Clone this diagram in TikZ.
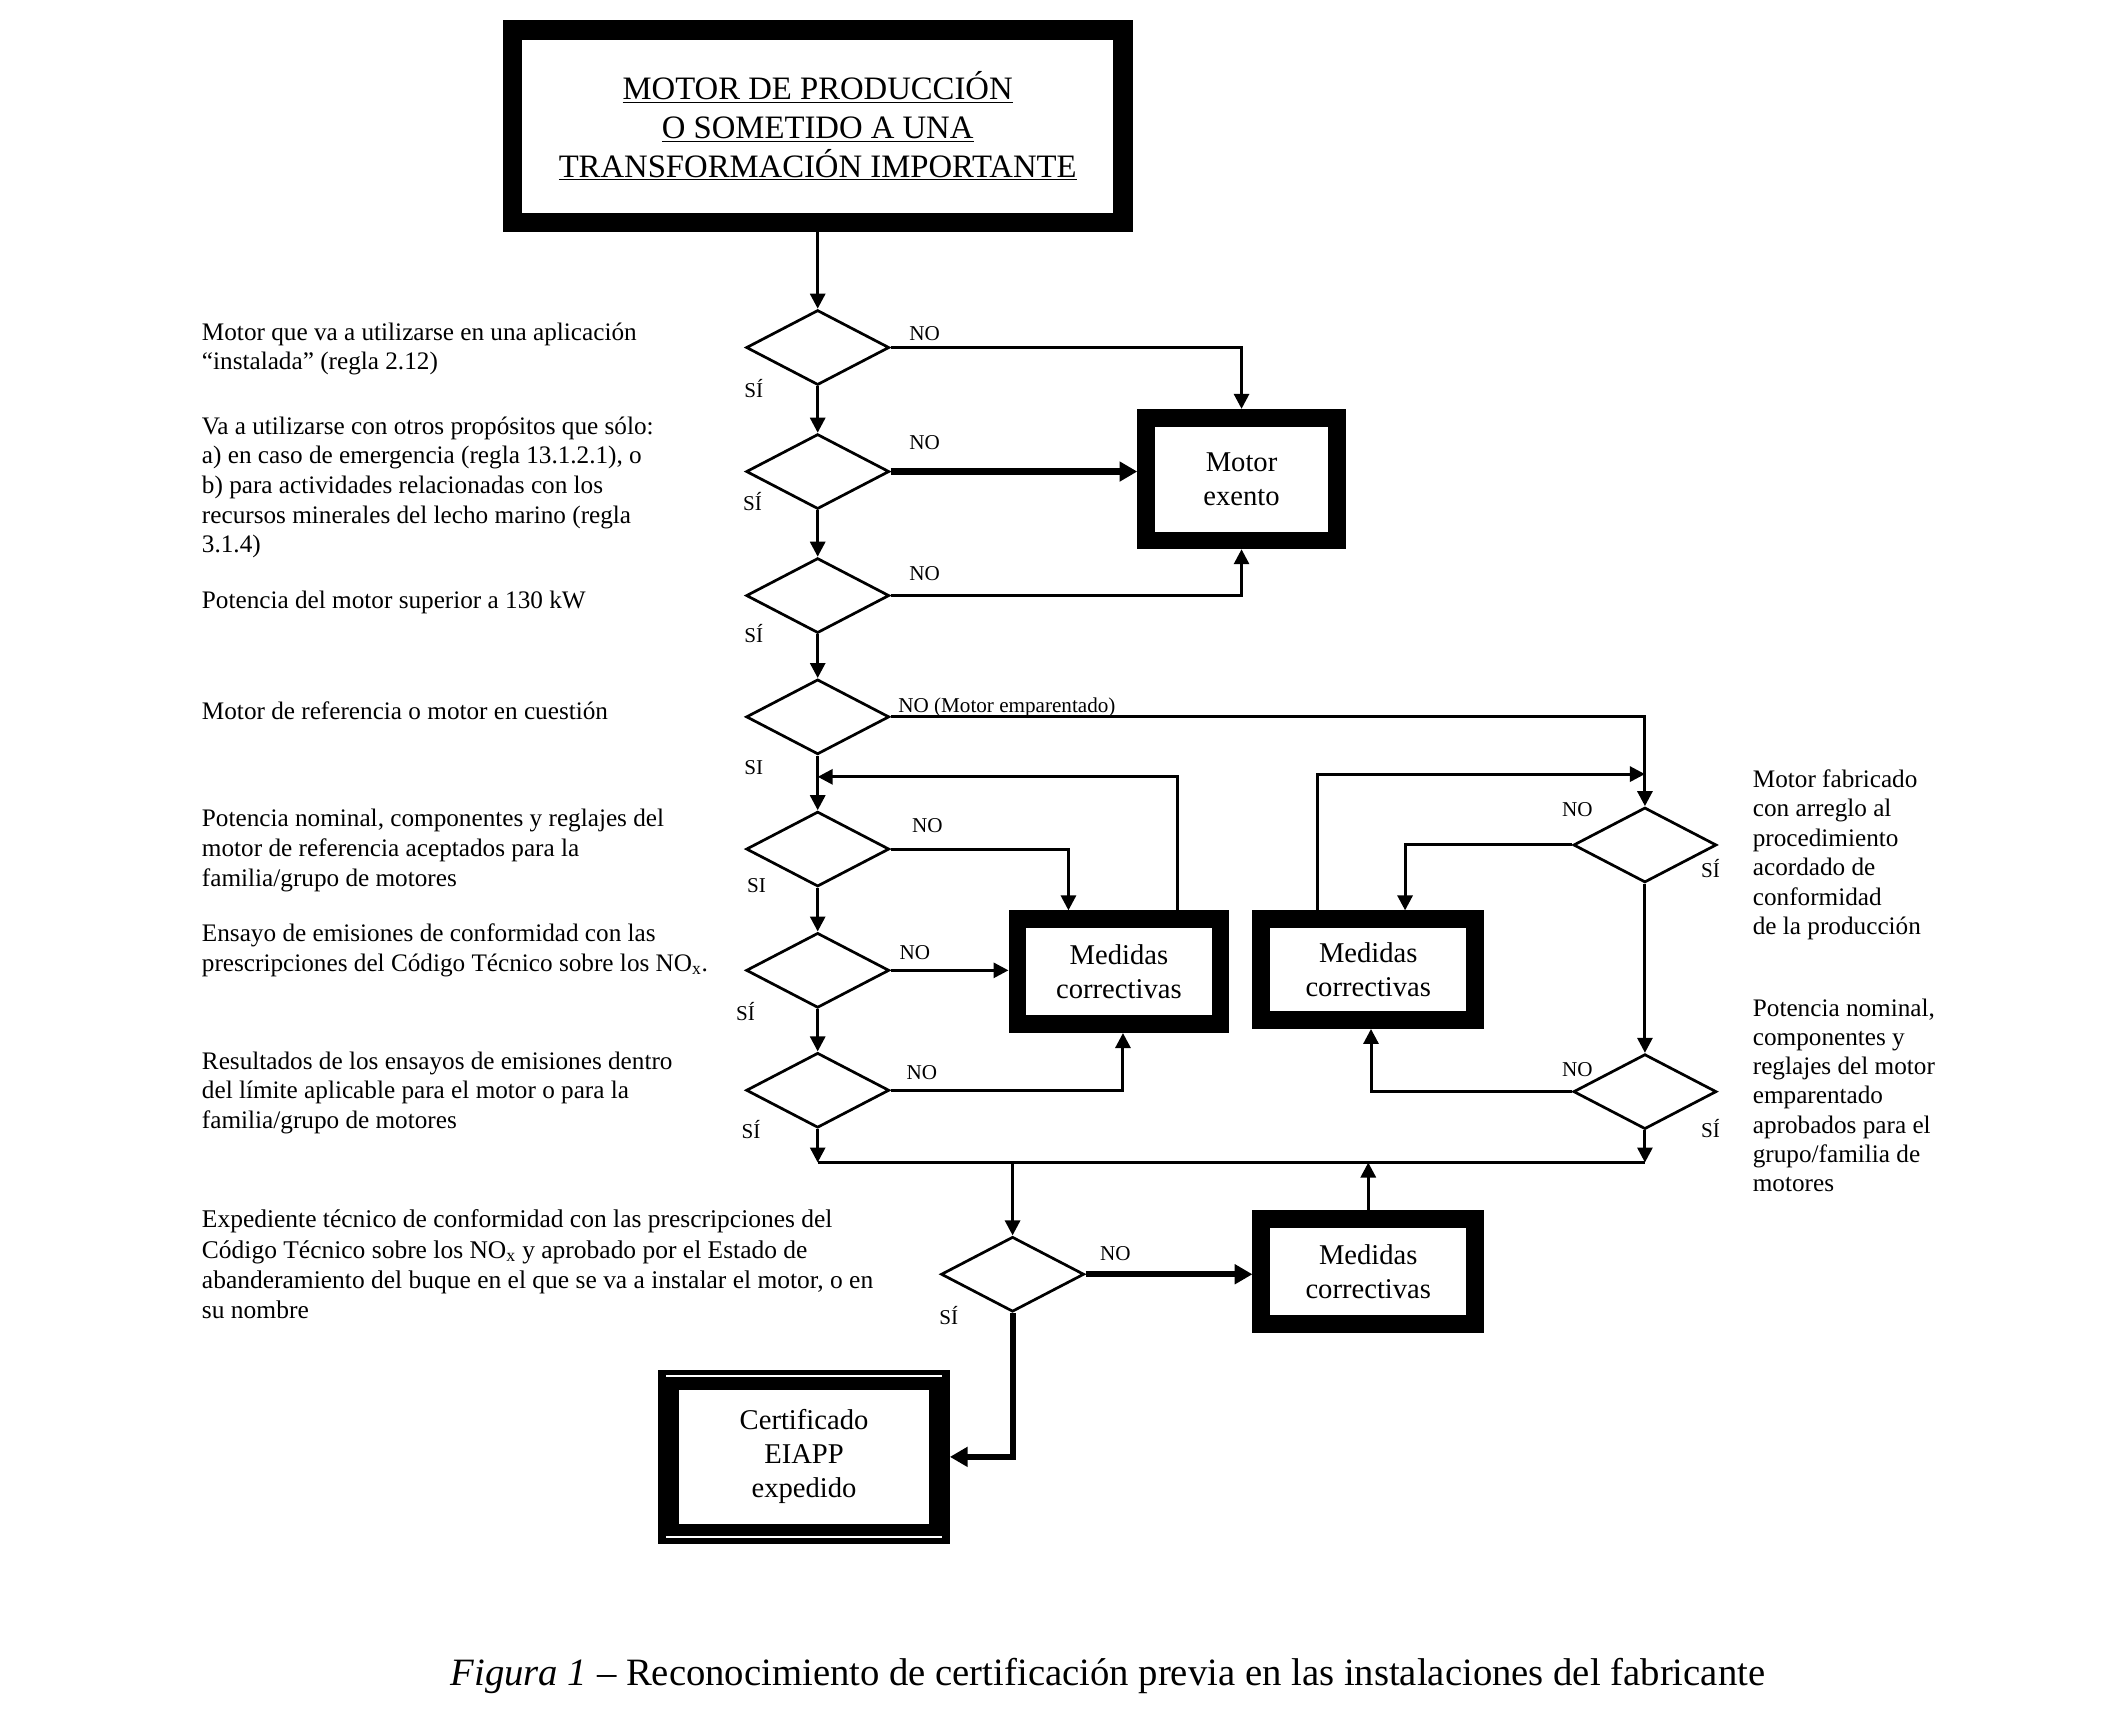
\documentclass[tikz,border=0pt]{standalone}
\usepackage{fontspec}
\setmainfont{Liberation Serif}
\usetikzlibrary{shapes.geometric,arrows.meta,calc}
\begin{document}
\begin{tikzpicture}[x=1pt,y=-1pt,
  dia/.style={draw, line width=2pt, diamond, minimum width=105pt, minimum height=55pt, inner sep=0pt, aspect=2},
  bbox/.style={draw, line width=13pt, fill=white, align=center, font=\fontsize{21}{25}\selectfont, inner sep=0pt},
  ln/.style={line width=2.2pt, -{Triangle[length=11pt,width=11pt]}},
  tk/.style={line width=4.5pt, -{Triangle[length=13pt,width=14pt]}},
  pl/.style={line width=2.2pt},
  lab/.style={anchor=west, inner sep=0pt, font=\fontsize{15.5}{18}\selectfont},
  ltext/.style={anchor=north west, inner sep=0pt, align=left, font=\fontsize{18.5}{21.8}\selectfont},
]
\useasboundingbox (0,0) rectangle (1560,1270);

% boxes
\node[bbox, line width=14pt, minimum width=448pt, minimum height=141pt, font=\fontsize{24}{28.5}\selectfont] (top) at (600,92.5)
  {\underline{MOTOR DE PRODUCCIÓN}\\ \underline{O SOMETIDO A UNA}\\ \underline{TRANSFORMACIÓN IMPORTANTE}};
\node[bbox, minimum width=140pt, minimum height=90pt] (exento) at (911,351.5) {Motor\\exento};
\node[bbox, minimum width=149pt, minimum height=77pt] (m1) at (821,713) {Medidas\\correctivas};
\node[bbox, minimum width=157pt, minimum height=74pt] (m2) at (1004,711.5) {Medidas\\correctivas};
\node[bbox, minimum width=157pt, minimum height=77pt] (m3) at (1004,933) {Medidas\\correctivas};
\node[bbox, line width=15pt, minimum width=199pt, minimum height=113pt] (cert) at (590,1069) {Certificado\\EIAPP\\expedido};
\draw[white, line width=1.5pt] ([shift={(6,5)}]cert.north west) -- ([shift={(-6,5)}]cert.north east);
\draw[white, line width=1.5pt] ([shift={(6,-5)}]cert.south west) -- ([shift={(-6,-5)}]cert.south east);

% diamonds
\node[dia] (d1) at (600,255) {};
\node[dia] (d2) at (600,346) {};
\node[dia] (d3) at (600,437) {};
\node[dia] (d4) at (600,526) {};
\node[dia] (d5) at (600,623) {};
\node[dia] (d6) at (600,712) {};
\node[dia] (d7) at (600,800) {};
\node[dia] (d5r) at (1207,620) {};
\node[dia] (d6r) at (1207,801) {};
\node[dia] (d8) at (743,935) {};

% coordinates
\coordinate (bl) at (600,853);
\coordinate (br) at (1207,853);
\coordinate (jl) at (600,570);
\coordinate (jr) at (1207,568);

% main column
\draw[ln] (top.south) -- (d1.north);
\draw[ln] (d1.south) -- (d2.north);
\draw[ln] (d2.south) -- (d3.north);
\draw[ln] (d3.south) -- (d4.north);
\draw[ln] (d4.south) -- (d5.north);
\draw[ln] (d5.south) -- (d6.north);
\draw[ln] (d6.south) -- (d7.north);
\draw[ln] (d7.south) -- (bl);
\draw[ln] (d6r.south) -- (br);
\draw[pl] (bl) -- (br);
\draw[ln] (d8.north |- bl) -- (d8.north);
\draw[ln] (m3.north) -- (m3.north |- bl);

% exento
\draw[ln] (d1.east) -| (exento.north);
\draw[tk] (d2.east) -- (d2.east -| exento.west);
\draw[ln] (d3.east) -| (exento.south);

% right column
\draw[ln] (d4.east) -| (d5r.north);
\draw[ln] (d5r.south) -- (d6r.north);
\draw[ln] (d5r.west) -| ([xshift=27pt]m2.north);
\draw[ln] (d6r.west) -| ([xshift=2pt]m2.south);
\draw[ln] ([xshift=-37pt]m2.north) |- (jr);

% medidas 1
\draw[ln] (d5.east) -| ([xshift=-37pt]m1.north);
\draw[ln] (d6.east) -- (d6.east -| m1.west);
\draw[ln] (d7.east) -| ([xshift=3pt]m1.south);
\draw[ln] ([xshift=43pt]m1.north) |- (jl);

% bottom
\draw[tk] (d8.east) -- (d8.east -| m3.west);
\draw[tk] (d8.south) |- (cert.east);

% labels
\node[lab] (n1) at (667,245) {NO};
\node[lab] (s1) at (546,285) {SÍ};
\node[lab] (n2) at (667,325) {NO};
\node[lab] (s2) at (545,368) {SÍ};
\node[lab] (n3) at (667,421) {NO};
\node[lab] (s3) at (546,465) {SÍ};
\node[lab] (n4) at (659,519) {NO (Motor emparentado)};
\node[lab] (s4) at (546,563) {SI};
\node[lab] (n5) at (669,606) {NO};
\node[lab] (s5) at (548,650) {SI};
\node[lab] (n6) at (660,699) {NO};
\node[lab] (s6) at (540,742) {SÍ};
\node[lab] (n7) at (665,787) {NO};
\node[lab] (s7) at (544,829) {SÍ};
\node[lab] (n5r) at (1146,594) {NO};
\node[lab] (s5r) at (1248,637) {SÍ};
\node[lab] (n6r) at (1146,785) {NO};
\node[lab] (s6r) at (1248,828) {SÍ};
\node[lab] (n8) at (807,920) {NO};
\node[lab] (s8) at (689,965) {SÍ};

% left texts
\node[ltext] (t1) at (148,236.5) {Motor que va a utilizarse en una aplicación\\“instalada” (regla 2.12)};
\node[ltext] (t2) at (148,305.5) {Va a utilizarse con otros propósitos que sólo:\\a) en caso de emergencia (regla 13.1.2.1), o\\b) para actividades relacionadas con los\\recursos minerales del lecho marino (regla\\3.1.4)};
\node[ltext] (t3) at (148,433.5) {Potencia del motor superior a 130 kW};
\node[ltext] (t4) at (148,514.5) {Motor de referencia o motor en cuestión};
\node[ltext] (t5) at (148,593.5) {Potencia nominal, componentes y reglajes del\\motor de referencia aceptados para la\\familia/grupo de motores};
\node[ltext] (t6) at (148,677.5) {Ensayo de emisiones de conformidad con las\\prescripciones del Código Técnico sobre los NO\textsubscript{x}.};
\node[ltext] (t7) at (148,771.5) {Resultados de los ensayos de emisiones dentro\\del límite aplicable para el motor o para la\\familia/grupo de motores};
\node[ltext, font=\fontsize{18.7}{22.3}\selectfont] (t8) at (148,887.5) {Expediente técnico de conformidad con las prescripciones del\\Código Técnico sobre los NO\textsubscript{x} y aprobado por el Estado de\\abanderamiento del buque en el que se va a instalar el motor, o en\\su nombre};

% right texts
\node[ltext, font=\fontsize{18.5}{21.6}\selectfont] (r1) at (1286,564.5) {Motor fabricado\\con arreglo al\\procedimiento\\acordado de\\conformidad\\de la producción};
\node[ltext, font=\fontsize{18.5}{21.5}\selectfont] (r2) at (1286,732.5) {Potencia nominal,\\componentes y\\reglajes del motor\\emparentado\\aprobados para el\\grupo/familia de\\motores};

% caption
\node[inner sep=0pt, font=\fontsize{28.4}{32}\selectfont] (cap) at (813,1230) {\textit{Figura 1} – Reconocimiento de certificación previa en las instalaciones del fabricante};
\end{tikzpicture}
\end{document}
